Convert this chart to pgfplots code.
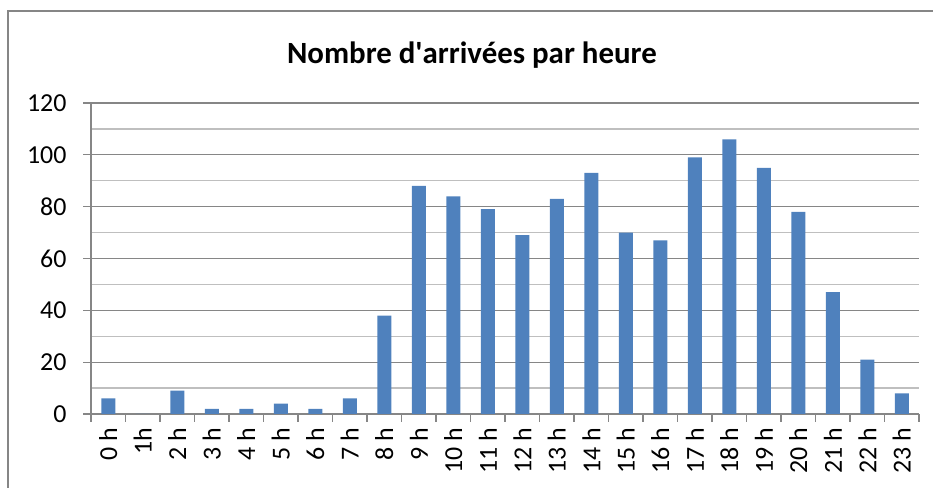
\documentclass[border=0pt]{standalone}
\usepackage{fontspec}
\setmainfont{Carlito}
\usepackage{pgfplots}
\pgfplotsset{compat=1.18}
\definecolor{barblue}{HTML}{4F81BD}
\definecolor{majgrid}{HTML}{868686}
\definecolor{mingrid}{HTML}{BFBFBF}
\begin{document}
\begin{tikzpicture}[x=1bp,y=1bp]
\useasboundingbox (0,0) rectangle (933,488);
\draw[color=majgrid, line width=2bp] (8,0) -- (8,477) -- (933,477);
\node[font=\fontsize{31}{34}\selectfont\bfseries] at (472,433) {Nombre d\textquotesingle arrivées par heure};
\begin{axis}[
  at={(91bp,74bp)}, anchor=south west, scale only axis,
  width=828bp, height=311bp,
  xmin=-0.5, xmax=23.5, ymin=0, ymax=120,
  ytick={0,20,...,120}, minor ytick={10,30,...,110},
  ymajorgrids, yminorgrids,
  major grid style={majgrid, line width=1.3bp},
  minor grid style={mingrid, line width=1.3bp},
  axis x line*=bottom, axis y line*=left,
  axis line style={majgrid, line width=1.3bp, -},
  every tick/.style={majgrid, line width=1.3bp},
  tick align=outside, major tick length=8bp, minor tick length=0bp,
  xtick={-0.5,0.5,...,23.5}, xticklabels={},
  extra x ticks={0,...,23},
  extra x tick labels={0 h,1h,2 h,3 h,4 h,5 h,6 h,7 h,8 h,9 h,10 h,11 h,12 h,13 h,14 h,15 h,16 h,17 h,18 h,19 h,20 h,21 h,22 h,23 h},
  extra x tick style={major tick length=0bp, xticklabel style={yshift=-10bp, rotate=90, anchor=east}},
  ticklabel style={font=\fontsize{26}{29}\selectfont},
  yticklabel style={xshift=-13bp},
  /pgf/number format/assume math mode=true,
  ybar, bar width=14bp, bar shift=0bp,
]
\addplot[fill=barblue, draw=none] coordinates {
(0,6) (1,0) (2,9) (3,2) (4,2) (5,4) (6,2) (7,6) (8,38) (9,88) (10,84) (11,79)
(12,69) (13,83) (14,93) (15,70) (16,67) (17,99) (18,106) (19,95) (20,78) (21,47) (22,21) (23,8)
};
\end{axis}
\end{tikzpicture}
\end{document}
